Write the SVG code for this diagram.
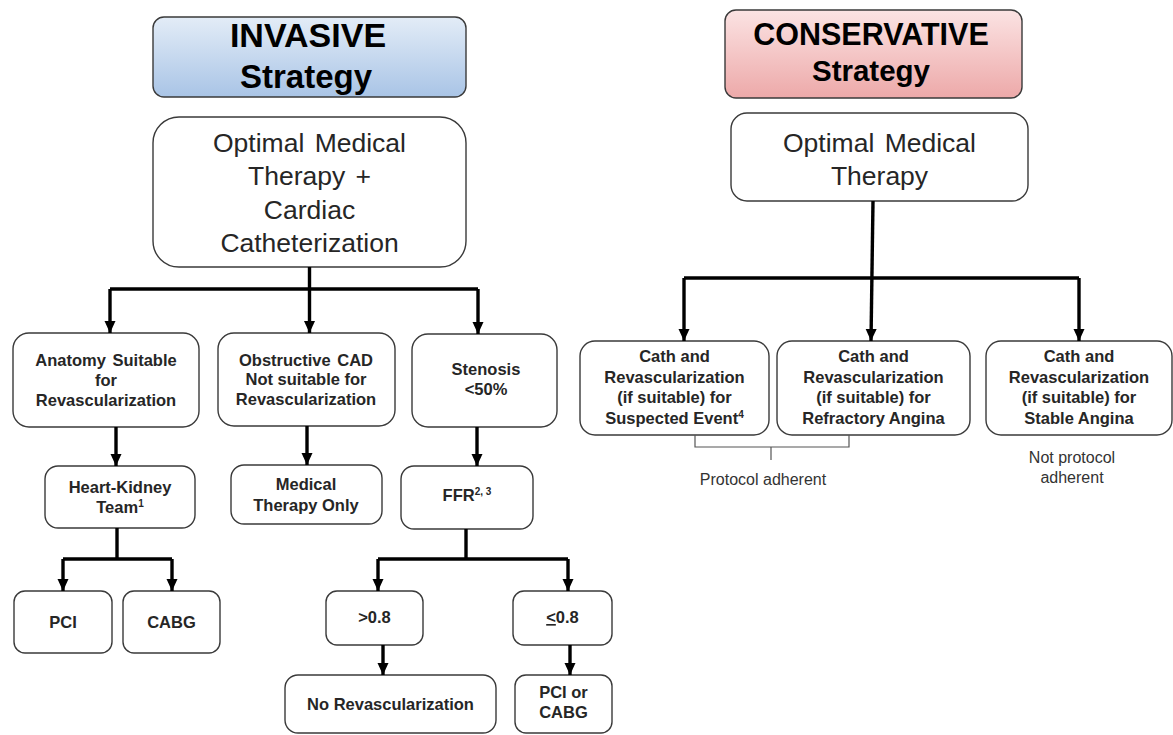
<svg xmlns="http://www.w3.org/2000/svg" width="1173" height="735" viewBox="0 0 1173 735">
<defs>
<linearGradient id="gBlue" x1="0" y1="0" x2="0" y2="1">
<stop offset="0" stop-color="#e3ecf7"/>
<stop offset="1" stop-color="#a9c4e6"/>
</linearGradient>
<linearGradient id="gRed" x1="0" y1="0" x2="0" y2="1">
<stop offset="0" stop-color="#fbe3e3"/>
<stop offset="1" stop-color="#eda9a9"/>
</linearGradient>
<marker id="arr" markerUnits="userSpaceOnUse" markerWidth="14" markerHeight="14" refX="12" refY="6" orient="auto">
<path d="M0,0.5 L12,6 L0,11.5 Z" fill="#000"/>
</marker>
<style>
.box{fill:#fff;stroke:#3a3a3a;stroke-width:1.4}
.title{font-family:"Liberation Sans",Arial,sans-serif;font-weight:bold;fill:#000;text-anchor:middle}
.big{font-family:"Liberation Sans",Arial,sans-serif;font-size:26.5px;fill:#262626;text-anchor:middle;word-spacing:3px}
.t{font-family:"Liberation Sans",Arial,sans-serif;font-weight:bold;font-size:16.5px;fill:#262626;text-anchor:middle}
.n{font-family:"Liberation Sans",Arial,sans-serif;font-size:16px;fill:#333;text-anchor:middle}
.c{fill:none;stroke:#000;stroke-width:3.4}
.ca{fill:none;stroke:#000;stroke-width:3.4;marker-end:url(#arr)}
.br{fill:none;stroke:#555;stroke-width:1.2}
.sup{font-size:10px}
</style>
</defs>

<g id="invasive-title">
<rect x="153" y="17" width="313" height="80" rx="11" fill="url(#gBlue)" stroke="#3a3a3a" stroke-width="1.4"/>
<text class="title" x="308" y="47" font-size="34">INVASIVE</text>
<text class="title" x="306" y="88" font-size="33">Strategy</text>
</g>

<g id="invasive-omt">
<rect class="box" x="153" y="117" width="313" height="150" rx="26"/>
<text class="big" x="309.5" y="152">Optimal Medical</text>
<text class="big" x="309.5" y="185">Therapy +</text>
<text class="big" x="309.5" y="219">Cardiac</text>
<text class="big" x="309.5" y="252">Catheterization</text>
</g>

<g id="conservative-title">
<rect x="725" y="10" width="297" height="88" rx="11" fill="url(#gRed)" stroke="#3a3a3a" stroke-width="1.4"/>
<text class="title" x="871" y="45" font-size="30.5">CONSERVATIVE</text>
<text class="title" x="871" y="81" font-size="29.5">Strategy</text>
</g>

<g id="conservative-omt">
<rect class="box" x="731" y="113" width="297" height="88" rx="16"/>
<text class="big" x="879.5" y="152">Optimal Medical</text>
<text class="big" x="879.5" y="185">Therapy</text>
</g>

<g id="anatomy">
<rect class="box" x="13" y="333" width="186" height="94" rx="16"/>
<text class="t" x="106" y="366" font-size="17" word-spacing="2">Anatomy Suitable</text>
<text class="t" x="106" y="386" font-size="17">for</text>
<text class="t" x="106" y="406" font-size="17">Revascularization</text>
</g>

<g id="obstructive">
<rect class="box" x="218" y="333" width="177" height="93" rx="16"/>
<text class="t" x="306" y="366" font-size="16" word-spacing="2">Obstructive CAD</text>
<text class="t" x="306" y="385" font-size="15.5">Not suitable for</text>
<text class="t" x="306" y="405" font-size="15.5">Revascularization</text>
</g>

<g id="stenosis">
<rect class="box" x="412" y="334" width="145" height="93" rx="16"/>
<text class="t" x="486" y="375" font-size="16">Stenosis</text>
<text class="t" x="486" y="395" font-size="16">&lt;50%</text>
</g>

<g id="heart-kidney">
<rect class="box" x="45" y="466" width="150" height="62" rx="13"/>
<text class="t" x="120" y="493" font-size="17">Heart-Kidney</text>
<text class="t" x="120" y="513" font-size="17">Team<tspan class="sup" dy="-6">1</tspan></text>
</g>

<g id="medical-only">
<rect class="box" x="231" y="465" width="151" height="59" rx="13"/>
<text class="t" x="306" y="490" font-size="16.5">Medical</text>
<text class="t" x="306" y="511" font-size="16.5">Therapy Only</text>
</g>

<g id="ffr">
<rect class="box" x="401" y="466" width="132" height="63" rx="13"/>
<text class="t" x="467" y="501" font-size="16.5">FFR<tspan class="sup" dy="-6">2, 3</tspan></text>
</g>

<g id="pci">
<rect class="box" x="14" y="591" width="98" height="62" rx="11"/>
<text class="t" x="63" y="628" font-size="17">PCI</text>
</g>

<g id="cabg">
<rect class="box" x="123" y="591" width="97" height="62" rx="11"/>
<text class="t" x="171.5" y="628" font-size="17">CABG</text>
</g>

<g id="gt08">
<rect class="box" x="326" y="591" width="97" height="54" rx="11"/>
<text class="t" x="374.5" y="623" font-size="16.5">&gt;0.8</text>
</g>

<g id="le08">
<rect class="box" x="513" y="591" width="99" height="54" rx="11"/>
<text class="t" x="562.5" y="623" font-size="16.5"><tspan text-decoration="underline">&lt;</tspan>0.8</text>
</g>

<g id="no-revasc">
<rect class="box" x="285" y="675" width="211" height="58" rx="13"/>
<text class="t" x="390.5" y="710" font-size="16.5">No Revascularization</text>
</g>

<g id="pci-or-cabg">
<rect class="box" x="515" y="675" width="97" height="58" rx="11"/>
<text class="t" x="563.5" y="698" font-size="16.5">PCI or</text>
<text class="t" x="563.5" y="718" font-size="16.5">CABG</text>
</g>

<g id="suspected-event">
<rect class="box" x="580" y="341" width="189" height="94" rx="15"/>
<text class="t" x="674.5" y="362">Cath and</text>
<text class="t" x="674.5" y="383">Revascularization</text>
<text class="t" x="674.5" y="403">(if suitable) for</text>
<text class="t" x="674.5" y="424">Suspected Event<tspan class="sup" dy="-6">4</tspan></text>
</g>

<g id="refractory">
<rect class="box" x="777" y="341" width="193" height="94" rx="15"/>
<text class="t" x="873.5" y="362">Cath and</text>
<text class="t" x="873.5" y="383">Revascularization</text>
<text class="t" x="873.5" y="403">(if suitable) for</text>
<text class="t" x="873.5" y="424">Refractory Angina</text>
</g>

<g id="stable">
<rect class="box" x="986" y="341" width="186" height="94" rx="15"/>
<text class="t" x="1079" y="362">Cath and</text>
<text class="t" x="1079" y="383">Revascularization</text>
<text class="t" x="1079" y="403">(if suitable) for</text>
<text class="t" x="1079" y="424">Stable Angina</text>
</g>

<g id="protocol-adherent">
<path class="br" d="M695,435 V447 H849 V435 M771,447 V460"/>
<text class="n" x="763" y="485">Protocol adherent</text>
</g>

<g id="not-protocol-adherent">
<text class="n" x="1072" y="463">Not protocol</text>
<text class="n" x="1072" y="483">adherent</text>
</g>

<g id="connectors">
<path class="c" d="M309.5,267 V289"/>
<path class="c" d="M110,289 H478"/>
<path class="ca" d="M110,289 V333"/>
<path class="ca" d="M309.5,289 V333"/>
<path class="ca" d="M478,289 V334"/>
<path class="ca" d="M116,427 V466"/>
<path class="ca" d="M307,426 V465"/>
<path class="ca" d="M477,427 V466"/>
<path class="c" d="M117,528 V559"/>
<path class="c" d="M63,559 H172"/>
<path class="ca" d="M63,559 V591"/>
<path class="ca" d="M172,559 V591"/>
<path class="c" d="M466,529 V559"/>
<path class="c" d="M378,559 H568"/>
<path class="ca" d="M378,559 V591"/>
<path class="ca" d="M568,559 V591"/>
<path class="ca" d="M383,645 V675"/>
<path class="ca" d="M570,645 V675"/>
<path class="ca" d="M873,201 L871,341"/>
<path class="c" d="M684,278 H1079"/>
<path class="ca" d="M684,278 V341"/>
<path class="ca" d="M1079,278 V341"/>
</g>
</svg>
